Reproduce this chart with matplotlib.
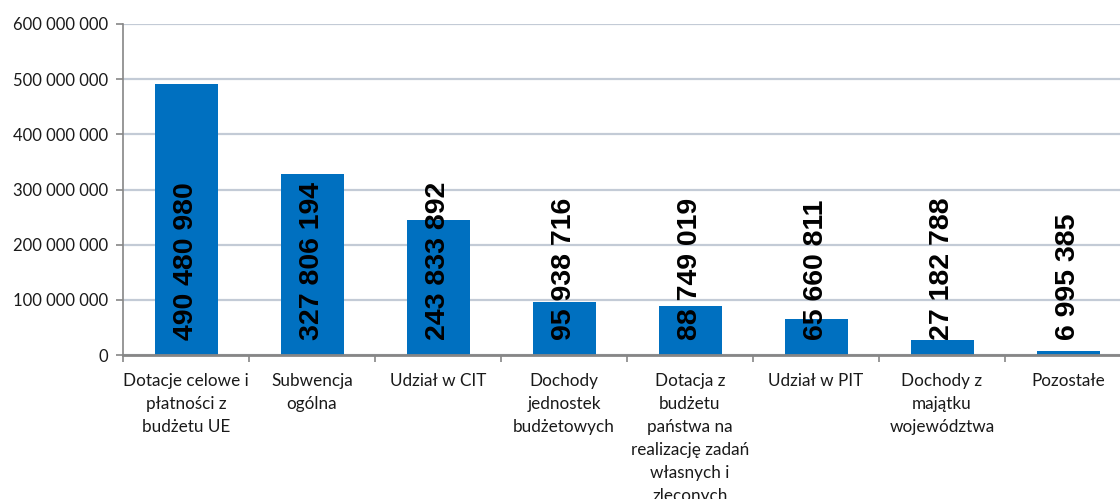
import matplotlib.pyplot as plt
from matplotlib.ticker import FuncFormatter, MultipleLocator, FixedLocator
import numpy as np

categories = [
    'Dotacje celowe i\npłatności z\nbudżetu UE',
    'Subwencja\nogólna',
    'Udział w CIT',
    'Dochody\njednostek\nbudżetowych',
    'Dotacja z\nbudżetu\npaństwa na\nrealizację zadań\nwłasnych i\nzleconych',
    'Udział w PIT',
    'Dochody z\nmajątku\nwojewództwa',
    'Pozostałe',
]
values = [490480980, 327806194, 243833892, 95938716, 88749019, 65660811, 27182788, 6995385]

bar_color = '#0070C0'
grid_color = '#C3CBD6'
axis_color = '#868686'


def spaced(v):
    return f'{int(v):,}'.replace(',', ' ')


fig = plt.figure(figsize=(11.2, 4.99), dpi=100)
ax = fig.add_axes([123 / 1120, (499 - 355) / 499, 1008 / 1120, 331 / 499])

x = np.arange(len(categories))
ax.bar(x, values, width=0.5, color=bar_color, zorder=3)

ax.set_xlim(-0.5, len(categories) - 0.5)
ax.set_ylim(0, 600000000)
ax.yaxis.set_major_locator(MultipleLocator(100000000))
ax.yaxis.set_major_formatter(FuncFormatter(lambda v, p: spaced(v)))
ax.grid(axis='y', color=grid_color, linewidth=1.6, zorder=0)

ax.set_xticks(x)
ax.set_xticklabels(categories, fontsize=12.3, family='Lato', color='#1a1a1a', linespacing=1.54, va='top')
ax.xaxis.set_minor_locator(FixedLocator(np.arange(len(categories) + 1) - 0.5))
ax.tick_params(axis='x', which='major', length=0, pad=13)
ax.tick_params(axis='x', which='minor', length=5, width=1.2, color=axis_color)
ax.tick_params(axis='y', length=5, width=1.2, color=axis_color, labelsize=12, pad=6)
for lbl in ax.get_yticklabels():
    lbl.set_family('Lato')
    lbl.set_color('#1a1a1a')

for side in ['top', 'right']:
    ax.spines[side].set_visible(False)
ax.spines['left'].set_color(axis_color)
ax.spines['left'].set_linewidth(1.2)
ax.spines['bottom'].set_color(axis_color)
ax.spines['bottom'].set_linewidth(2)
ax.spines['bottom'].set_zorder(4)

for xi, v in zip(x, values):
    ax.annotate(spaced(v), xy=(xi, 0), xytext=(0, 11), textcoords='offset points',
                rotation=90, ha='center', va='bottom', fontsize=20.5, fontweight='bold',
                family='Liberation Sans', color='black', zorder=5)

fig.savefig('out.png', dpi=100)
